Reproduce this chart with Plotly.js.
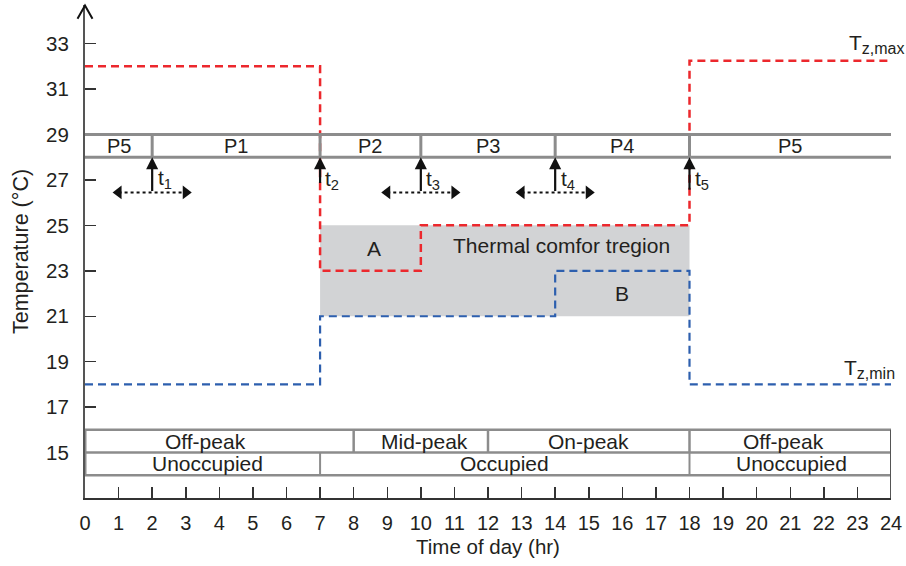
<!DOCTYPE html>
<html>
<head>
<meta charset="utf-8">
<script src="https://cdn.plot.ly/plotly-3.0.1.min.js"></script>
<style>html,body{margin:0;padding:0;background:#fff;}#chart{width:906px;height:566px;}</style>
</head>
<body>
<div id="chart"></div>
<script>
// ---- data ----
var hourTicks = [0,1,2,3,4,5,6,7,8,9,10,11,12,13,14,15,16,17,18,19,20,21,22,23,24];
var tempTicks = [15,17,19,21,23,25,27,29,31,33];

var tzMaxX = [0,7,10,18,24];
var tzMaxY = [32,23,25,32.25,32.25];
var tzMinX = [0,7,14,18,24];
var tzMinY = [18,21,23,18,18];

var comfortX = [7,18];
var comfortY = [21,25];

var periodEdges = [0,2,7,10,14,18,24];
var periodLabels = ['P5','P1','P2','P3','P4','P5'];
var periodBand = [28,29];

var switchTimes = [2,7,10,14,18];
var switchLabels = ['t<sub>1</sub>','t<sub>2</sub>','t<sub>3</sub>','t<sub>4</sub>','t<sub>5</sub>'];
var switchArrowBase = [26.45,26.8,26.45,26.45,26.5];
var switchLabelY = [27.05,27.0,27.0,27.0,27.0];

var windowStart = [1,9,13];
var windowEnd = [3,11,15];
var windowY = 26.45;

var priceEdges = [0,8,12,18,24];
var priceLabels = ['Off-peak','Mid-peak','On-peak','Off-peak'];
var priceLabelX = [3.6,10.1,15,20.8];
var occEdges = [0,7,18,24];
var occLabels = ['Unoccupied','Occupied','Unoccupied'];
var occLabelX = [3.65,12.5,21.05];
var tableRows = [16,15,14];

var regionLabels = ['A','Thermal comfor tregion','B'];
var regionLabelX = [8.6,14.2,16];
var regionLabelY = [24.0,24.1,22.0];

// ---- styles ----
var FONT = 'Liberation Sans, Arial, sans-serif';
var TXT = '#231f20';
var GRAYLINE = '#8c8c8c';
var RED = '#ec282d';
var BLUE = '#2d5fae';

var traces = [];
traces.push({x: tzMaxX, y: tzMaxY, mode: 'lines', line: {shape: 'hv', color: RED, width: 2.5, dash: '8px,5px'}, hoverinfo: 'skip', showlegend: false});
traces.push({x: tzMinX, y: tzMinY, mode: 'lines', line: {shape: 'hv', color: BLUE, width: 2.2, dash: '8px,5px'}, hoverinfo: 'skip', showlegend: false});

for (var i = 0; i < windowStart.length; i++) {
  traces.push({x: [windowStart[i], windowEnd[i]], y: [windowY, windowY], mode: 'lines',
    line: {color: '#111', width: 2, dash: 'dot'}, hoverinfo: 'skip', showlegend: false});
  traces.push({x: [windowStart[i], windowEnd[i]], y: [windowY, windowY], mode: 'markers',
    marker: {symbol: ['triangle-left','triangle-right'], size: 12, color: '#111'}, hoverinfo: 'skip', showlegend: false});
}

var shapes = [];
shapes.push({type: 'rect', xref: 'x', yref: 'y', x0: comfortX[0], x1: comfortX[1], y0: comfortY[0], y1: comfortY[1],
  fillcolor: '#d2d3d5', line: {width: 0}, layer: 'below'});
periodBand.forEach(function (yv) {
  shapes.push({type: 'line', xref: 'x', yref: 'y', x0: periodEdges[0], x1: periodEdges[periodEdges.length-1], y0: yv, y1: yv,
    line: {color: GRAYLINE, width: 3}});
});
for (var i = 1; i < periodEdges.length - 1; i++) {
  shapes.push({type: 'line', xref: 'x', yref: 'y', x0: periodEdges[i], x1: periodEdges[i], y0: periodBand[0], y1: periodBand[1],
    line: {color: GRAYLINE, width: 3}});
}
tableRows.forEach(function (yv) {
  shapes.push({type: 'line', xref: 'x', yref: 'y', x0: 0, x1: 24, y0: yv, y1: yv, line: {color: GRAYLINE, width: 2.5}});
});
shapes.push({type: 'line', xref: 'x', yref: 'y', x0: 0, x1: 0, y0: tableRows[2], y1: tableRows[0], line: {color: GRAYLINE, width: 3}});
shapes.push({type: 'line', xref: 'x', yref: 'y', x0: 24, x1: 24, y0: 13, y1: tableRows[0], line: {color: '#555', width: 2}});
for (var i = 1; i < priceEdges.length - 1; i++) {
  shapes.push({type: 'line', xref: 'x', yref: 'y', x0: priceEdges[i], x1: priceEdges[i], y0: tableRows[1], y1: tableRows[0], line: {color: GRAYLINE, width: 2.5}});
}
for (var i = 1; i < occEdges.length - 1; i++) {
  shapes.push({type: 'line', xref: 'x', yref: 'y', x0: occEdges[i], x1: occEdges[i], y0: tableRows[2], y1: tableRows[1], line: {color: GRAYLINE, width: 2}});
}
shapes.push({type: 'path', xref: 'paper', yref: 'paper', path: 'M -0.0093,0.972 L 0,0.999 L 0.0093,0.972',
  line: {color: '#111', width: 2}});

var ann = [];
function txt(x, y, t, size, opts) {
  var a = {x: x, y: y, xref: 'x', yref: 'y', text: t, showarrow: false, font: {family: FONT, size: size, color: TXT}};
  for (var k in (opts || {})) a[k] = opts[k];
  ann.push(a);
}
for (var i = 0; i < periodLabels.length; i++) {
  txt((periodEdges[i] + periodEdges[i+1]) / 2, (periodBand[0] + periodBand[1]) / 2, periodLabels[i], 20);
}
for (var i = 0; i < switchTimes.length; i++) {
  ann.push({x: switchTimes[i], y: periodBand[0], ax: switchTimes[i], ay: switchArrowBase[i], xref: 'x', yref: 'y', axref: 'x', ayref: 'y',
    showarrow: true, arrowhead: 2, arrowsize: 1.1, arrowwidth: 2.2, arrowcolor: '#111', standoff: 0, text: ''});
  txt(switchTimes[i] + 0.1, switchLabelY[i], switchLabels[i], 21, {xanchor: 'left'});
}
for (var i = 0; i < priceLabels.length; i++) txt(priceLabelX[i], (tableRows[0] + tableRows[1]) / 2, priceLabels[i], 21);
for (var i = 0; i < occLabels.length; i++) txt(occLabelX[i], (tableRows[1] + tableRows[2]) / 2, occLabels[i], 21);
for (var i = 0; i < regionLabels.length; i++) txt(regionLabelX[i], regionLabelY[i], regionLabels[i], 21);
txt(22.69, 33.0, 'T<sub><span style="font-size:16px">z,max</span></sub>', 21, {xanchor: 'left'});
txt(22.53, 18.7, 'T<sub><span style="font-size:16px">z,min</span></sub>', 21, {xanchor: 'left'});

var layout = {
  width: 906, height: 566,
  margin: {l: 85, r: 15, t: 5, b: 68},
  paper_bgcolor: '#fff', plot_bgcolor: '#fff',
  font: {family: FONT, size: 20, color: TXT},
  showlegend: false,
  xaxis: {range: [0, 24], tickvals: hourTicks, ticks: 'inside', ticklen: 11, tickwidth: 1.5, tickcolor: '#333',
    showline: true, linecolor: '#333', linewidth: 2, showgrid: false, zeroline: false, ticklabelstandoff: 6,
    tickfont: {family: FONT, size: 20, color: TXT},
    title: {text: 'Time of day (hr)', font: {family: FONT, size: 20.5, color: TXT}, standoff: 7}},
  yaxis: {range: [13, 34.7], tickvals: tempTicks, ticks: 'inside', ticklen: 11, tickwidth: 1.5, tickcolor: '#333',
    showline: true, linecolor: '#555', linewidth: 2, showgrid: false, zeroline: false, ticklabelstandoff: 10,
    tickfont: {family: FONT, size: 20.5, color: TXT},
    title: {text: 'Temperature (°C)', font: {family: FONT, size: 21.5, color: TXT}, standoff: 12}},
  shapes: shapes,
  annotations: ann
};
Plotly.newPlot('chart', traces, layout, {displayModeBar: false, staticPlot: true});
</script>
</body>
</html>
